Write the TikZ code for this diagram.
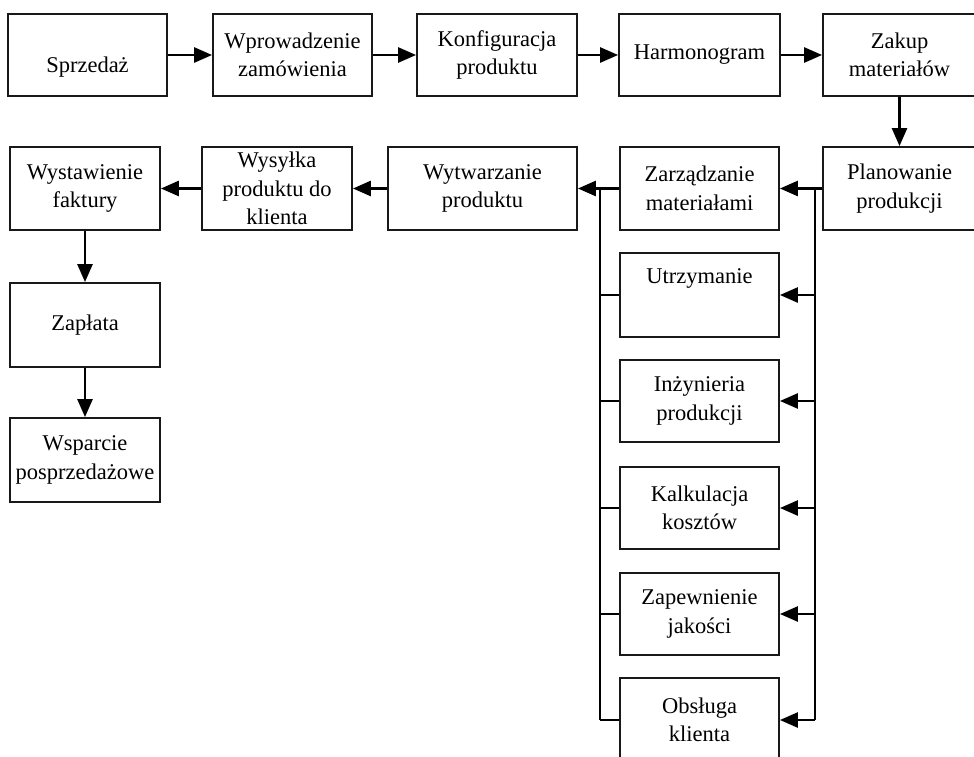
\documentclass[tikz,border=0pt]{standalone}
\usepackage{fontspec}
\setmainfont{Liberation Serif}
\usetikzlibrary{arrows.meta,calc}
\begin{document}
\begin{tikzpicture}[x=1pt,y=-1pt,
  box/.style={draw=black!90,line width=1.8pt,rectangle,inner sep=0pt,align=center,
    font=\fontsize{22.5}{28.5}\selectfont},
  txt/.style={inner sep=0pt,align=center,font=\fontsize{22.5}{28.5}\selectfont},
  arr/.style={line width=2.6pt,-{Triangle[length=18pt,width=15pt]}},
  bus/.style={line width=1.6pt}]
\useasboundingbox (0,0) rectangle (974,757);
% row 1
\node[box,minimum width=159pt,minimum height=82pt] (sp) at (87.5,55) {};
\node[txt] (spt) at ($(sp.center)+(0,12)$) {Sprzedaż};
\node[box,minimum width=159pt,minimum height=82pt] (wp) at (292.5,55) {Wprowadzenie\\zamówienia};
\node[box,minimum width=160pt,minimum height=82pt] (kp) at (497,55) {Konfiguracja\\produktu};
\node[box,minimum width=161pt,minimum height=82pt] (hg) at (699.5,55) {Harmonogram};
\node[box,minimum width=153pt,minimum height=82pt] (zm) at (899.5,55) {Zakup\\materiałów};
% row 2
\node[box,minimum width=153pt,minimum height=83pt] (pp) at (899.5,188.5) {Planowanie\\produkcji};
\node[box,minimum width=159pt,minimum height=83pt] (zr) at (699.5,188.5) {Zarządzanie\\materiałami};
\node[box,minimum width=189pt,minimum height=83pt] (wy) at (482.5,188.5) {Wytwarzanie\\produktu};
\node[box,minimum width=150pt,minimum height=83pt] (ws) at (277,188.5) {Wysyłka\\produktu do\\klienta};
\node[box,minimum width=150pt,minimum height=83pt] (wf) at (85,188.5) {Wystawienie\\faktury};
% left column
\node[box,minimum width=150pt,minimum height=84pt] (zp) at (85,325) {Zapłata};
\node[box,minimum width=150pt,minimum height=84pt] (wsp) at (85,460) {Wsparcie\\posprzedażowe};
% department column
\node[box,minimum width=159pt,minimum height=84pt] (ut) at (699.5,295) {};
\node[txt] (utt) at ($(ut.center)+(0,-17)$) {Utrzymanie};
\node[box,minimum width=159pt,minimum height=82pt] (in) at (699.5,401) {Inżynieria\\produkcji};
\node[box,minimum width=159pt,minimum height=82pt] (ka) at (699.5,508) {Kalkulacja\\kosztów};
\node[box,minimum width=159pt,minimum height=82pt] (za) at (699.5,614) {Zapewnienie\\jakości};
\node[box,minimum width=159pt,minimum height=84pt] (ob) at (699.5,720) {Obsługa\\klienta};
% bus coordinates
\coordinate (rb) at (815,188.5);
\coordinate (lb) at (600,188.5);
% arrows row 1
\draw[arr] (sp) -- (wp);
\draw[arr] (wp) -- (kp);
\draw[arr] (kp) -- (hg);
\draw[arr] (hg) -- (zm);
\draw[arr] (zm) -- (pp);
% arrows row 2
\draw[arr] (pp) -- (zr);
\draw[arr] (zr) -- (wy);
\draw[arr] (wy) -- (ws);
\draw[arr] (ws) -- (wf);
\draw[arr] (wf) -- (zp);
\draw[arr] (zp) -- (wsp);
% right bus
\draw[bus] (rb) -- (rb |- ob.east);
\draw[arr] (rb |- ut.east) -- (ut.east);
\draw[arr] (rb |- in.east) -- (in.east);
\draw[arr] (rb |- ka.east) -- (ka.east);
\draw[arr] (rb |- za.east) -- (za.east);
\draw[arr] (rb |- ob.east) -- (ob.east);
% left bus
\draw[bus] (lb) -- (lb |- ob.west);
\draw[bus] (lb |- ut.west) -- (ut.west);
\draw[bus] (lb |- in.west) -- (in.west);
\draw[bus] (lb |- ka.west) -- (ka.west);
\draw[bus] (lb |- za.west) -- (za.west);
\draw[bus] (lb |- ob.west) -- (ob.west);
\end{tikzpicture}
\end{document}
